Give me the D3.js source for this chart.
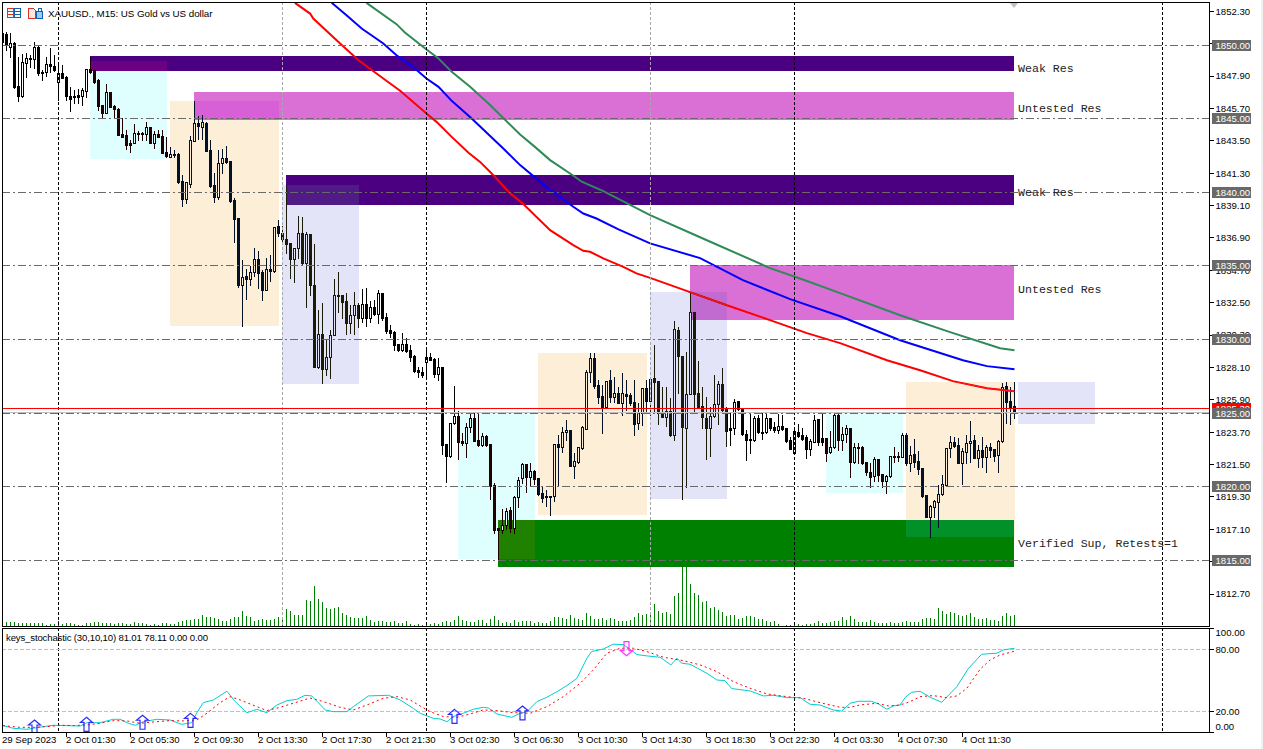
<!DOCTYPE html>
<html>
<head>
<meta charset="utf-8">
<title>XAUUSD M15</title>
<script src="https://cdn.jsdelivr.net/npm/d3@7"></script>
<style>
  html, body { margin: 0; padding: 0; background: #fff; overflow: hidden; }
  svg { display: block; }
  text { font-family: "Liberation Sans", sans-serif; }
  .axis text { font-size: 9.6px; fill: #000; }
  .axis path { display: none; }
  .axis line { stroke: #000; shape-rendering: crispEdges; }
</style>
</head>
<body>
<svg id="chart" width="1263" height="749"></svg>
<script>
// M15 candles
const opens = [1850.82,1850.75,1849.87,1850.14,1847.22,1846.54,1848.78,1849.12,1849.05,1849.87,1848.17,1848.17,1848.71,1848.57,1847.49,1848.10,1847.83,1846.54,1846.54,1846.60,1846.54,1846.88,1848.37,1848.30,1847.62,1845.92,1845.38,1846.81,1845.86,1845.65,1843.95,1843.89,1843.34,1843.34,1844.02,1843.95,1843.95,1844.43,1843.34,1843.95,1843.82,1842.73,1842.39,1842.53,1842.59,1840.76,1839.54,1840.55,1843.48,1844.70,1844.43,1844.70,1842.87,1840.49,1839.67,1841.98,1842.32,1842.12,1839.47,1838.25,1833.69,1834.30,1834.10,1834.57,1835.46,1834.57,1833.35,1834.78,1834.64,1837.70,1837.23,1836.82,1836.55,1835.46,1836.21,1837.23,1835.19,1837.16,1833.69,1828.12,1830.36,1827.98,1828.80,1830.29,1832.94,1833.01,1832.60,1831.11,1831.65,1832.33,1831.45,1832.40,1831.45,1832.20,1831.72,1833.15,1831.52,1830.63,1830.50,1829.68,1829.27,1829.68,1829.27,1828.87,1827.92,1827.78,1828.46,1828.80,1828.66,1827.64,1828.12,1822.89,1822.07,1824.31,1824.79,1823.09,1822.95,1824.04,1824.65,1823.16,1822.82,1823.43,1822.89,1820.10,1817.18,1817.04,1817.38,1818.40,1817.18,1819.28,1820.58,1821.53,1820.64,1821.05,1820.58,1819.56,1819.35,1819.35,1819.35,1822.89,1822.68,1823.70,1823.84,1821.39,1821.66,1822.61,1823.90,1827.78,1828.73,1826.90,1826.15,1825.40,1827.24,1826.08,1826.35,1825.67,1826.28,1826.22,1825.74,1824.31,1825.00,1826.69,1825.81,1827.37,1827.17,1825.06,1824.72,1825.13,1823.50,1830.63,1828.87,1823.97,1826.28,1831.86,1826.35,1825.47,1824.65,1823.97,1824.79,1825.60,1826.96,1825.33,1823.97,1823.97,1825.81,1825.33,1823.57,1823.23,1823.16,1824.65,1823.70,1823.70,1824.65,1824.04,1823.84,1824.11,1823.97,1823.16,1822.27,1823.70,1823.50,1823.36,1822.55,1823.02,1824.58,1823.29,1823.29,1822.34,1822.68,1824.86,1823.16,1823.57,1823.97,1821.66,1822.61,1822.68,1821.66,1820.98,1820.71,1821.87,1820.85,1820.37,1820.71,1822.00,1822.00,1822.00,1823.50,1821.59,1822.21,1821.73,1821.26,1819.42,1817.93,1818.60,1818.94,1819.49,1820.10,1822.61,1823.02,1822.82,1821.59,1822.34,1822.95,1823.16,1821.93,1822.48,1822.00,1822.68,1822.55,1822.14,1823.09,1826.83,1825.81,1825.47];
const highs = [1850.89,1850.89,1850.82,1850.21,1849.19,1849.39,1849.46,1849.32,1850.21,1849.93,1848.30,1849.19,1849.80,1849.32,1848.78,1848.64,1847.89,1847.15,1846.94,1847.01,1847.08,1848.37,1849.19,1848.30,1847.69,1845.92,1847.35,1846.81,1845.92,1845.72,1845.04,1844.23,1843.55,1844.63,1844.16,1844.09,1844.77,1844.43,1844.16,1844.23,1844.23,1843.75,1843.07,1842.87,1842.66,1841.17,1840.69,1843.82,1846.20,1845.18,1845.24,1844.77,1843.55,1841.30,1842.87,1842.93,1843.14,1842.12,1839.60,1838.25,1835.39,1834.78,1834.98,1836.21,1836.00,1834.71,1835.53,1835.73,1837.63,1838.11,1837.70,1840.49,1836.55,1836.21,1838.38,1838.31,1837.29,1837.16,1836.48,1831.99,1832.47,1830.02,1830.63,1834.10,1834.57,1833.01,1833.15,1832.33,1833.22,1832.47,1833.42,1833.49,1832.60,1832.67,1833.35,1833.15,1831.79,1830.97,1830.57,1829.68,1830.43,1830.09,1829.61,1828.93,1828.12,1828.12,1829.41,1829.07,1828.73,1828.73,1828.12,1822.89,1824.31,1826.83,1825.13,1823.63,1824.31,1824.92,1824.99,1824.99,1823.63,1823.50,1822.89,1820.24,1817.18,1818.47,1818.54,1818.60,1819.35,1820.64,1821.59,1821.53,1821.59,1821.12,1820.58,1820.03,1819.76,1819.35,1822.89,1823.50,1824.04,1824.52,1823.84,1822.27,1822.68,1824.11,1827.92,1829.07,1829.07,1827.24,1826.90,1827.17,1827.92,1827.44,1826.76,1827.71,1827.24,1826.35,1827.24,1825.67,1826.69,1827.24,1827.44,1829.61,1827.17,1826.76,1826.76,1826.01,1831.25,1830.84,1828.87,1829.14,1833.22,1831.86,1828.53,1826.76,1826.08,1825.40,1827.57,1827.17,1828.05,1825.40,1825.06,1825.94,1825.81,1825.33,1823.84,1825.00,1824.79,1824.86,1825.06,1825.06,1824.65,1824.38,1824.92,1824.86,1823.97,1823.36,1823.97,1824.24,1823.97,1823.50,1823.23,1824.86,1824.58,1825.00,1823.29,1823.77,1825.00,1825.00,1824.04,1824.18,1823.97,1822.95,1822.95,1822.75,1821.66,1821.59,1822.00,1821.87,1820.85,1820.78,1822.07,1822.68,1822.34,1823.63,1823.63,1822.75,1823.23,1822.41,1821.26,1819.42,1818.74,1819.08,1820.10,1820.78,1822.61,1823.43,1823.36,1823.29,1822.61,1823.50,1824.45,1823.50,1822.82,1823.36,1822.82,1822.95,1822.55,1823.16,1827.03,1827.10,1826.76,1827.10];
const lows = [1850.14,1849.66,1849.19,1847.08,1846.20,1846.47,1847.83,1848.51,1848.44,1847.96,1847.62,1847.89,1848.17,1848.23,1846.26,1847.76,1846.26,1845.52,1846.06,1846.06,1845.92,1846.47,1848.10,1847.42,1845.58,1845.04,1845.38,1845.79,1845.11,1843.89,1843.75,1842.93,1842.73,1843.34,1843.55,1843.55,1843.55,1843.34,1843.00,1843.75,1842.66,1842.39,1842.39,1842.39,1840.62,1839.06,1839.26,1840.35,1843.48,1843.61,1843.61,1842.80,1840.35,1839.33,1839.54,1841.30,1841.98,1839.33,1836.61,1833.55,1830.91,1832.74,1833.69,1834.30,1833.49,1832.67,1833.35,1833.96,1834.57,1837.02,1836.55,1835.87,1834.17,1833.90,1835.53,1835.05,1832.20,1833.01,1828.12,1828.05,1827.03,1827.57,1827.37,1830.29,1831.86,1831.45,1830.36,1830.43,1830.36,1830.84,1831.18,1830.91,1831.18,1831.65,1831.11,1831.31,1830.43,1830.16,1829.27,1829.21,1829.21,1829.14,1828.53,1827.78,1827.44,1827.44,1827.44,1828.59,1827.44,1827.24,1822.21,1820.30,1822.00,1824.24,1821.87,1822.82,1822.00,1823.70,1823.09,1822.75,1822.75,1822.75,1819.15,1816.84,1815.07,1816.84,1817.11,1816.90,1816.84,1818.60,1820.24,1819.62,1820.03,1820.17,1819.42,1818.94,1818.67,1818.06,1819.01,1820.10,1822.34,1823.16,1821.39,1820.58,1821.59,1822.55,1823.90,1827.10,1826.69,1825.67,1823.63,1825.33,1825.74,1825.74,1825.67,1824.86,1825.20,1825.54,1823.50,1823.90,1824.18,1825.00,1824.86,1825.00,1824.24,1824.72,1824.11,1823.43,1823.16,1826.35,1819.15,1819.96,1826.28,1825.00,1825.33,1823.97,1821.87,1822.07,1824.72,1824.24,1825.13,1822.75,1822.82,1823.57,1825.20,1823.50,1821.80,1822.27,1823.09,1823.63,1823.23,1823.63,1823.84,1823.70,1823.63,1823.84,1823.02,1822.55,1822.27,1823.36,1823.16,1821.93,1822.14,1823.02,1822.82,1822.82,1821.73,1822.27,1822.61,1822.48,1822.48,1823.02,1820.64,1821.59,1821.59,1821.53,1820.78,1819.96,1820.37,1820.37,1819.96,1819.56,1820.64,1821.66,1821.73,1822.00,1821.46,1821.05,1821.32,1820.85,1819.28,1817.93,1816.57,1817.93,1817.25,1819.42,1820.03,1822.00,1822.68,1821.59,1820.17,1821.59,1821.66,1821.93,1821.32,1821.32,1820.98,1822.00,1821.73,1820.98,1823.02,1824.31,1824.24,1824.65];
const closes = [1850.21,1850.00,1850.14,1847.15,1846.54,1848.85,1849.12,1849.05,1849.87,1848.10,1848.10,1848.71,1848.57,1848.30,1848.10,1847.76,1846.54,1846.33,1846.47,1846.47,1846.94,1848.37,1848.17,1847.49,1845.86,1845.38,1846.81,1845.79,1845.65,1843.89,1843.75,1843.21,1843.21,1844.02,1843.95,1844.02,1844.43,1843.34,1843.95,1843.75,1842.66,1842.46,1842.59,1842.59,1840.69,1839.54,1840.69,1843.55,1844.70,1844.50,1844.77,1842.80,1840.42,1839.67,1841.98,1842.32,1842.05,1839.40,1838.18,1833.69,1834.24,1834.10,1834.57,1835.46,1834.51,1833.35,1834.78,1834.64,1837.63,1837.23,1836.82,1836.48,1835.46,1836.21,1837.23,1835.19,1837.16,1833.69,1828.12,1830.36,1827.98,1828.80,1830.29,1833.01,1833.01,1832.54,1831.11,1831.65,1832.33,1831.45,1832.40,1831.45,1832.20,1831.72,1833.15,1831.45,1830.57,1830.43,1829.61,1829.27,1829.68,1829.21,1828.80,1827.85,1827.78,1827.57,1828.80,1828.59,1827.64,1828.12,1822.82,1822.07,1824.31,1824.79,1823.02,1822.95,1824.04,1824.65,1823.09,1822.82,1823.43,1822.82,1820.03,1817.04,1817.04,1817.38,1818.33,1817.18,1819.28,1820.44,1821.53,1820.64,1821.05,1820.51,1819.49,1819.22,1819.28,1819.28,1822.89,1822.68,1823.70,1823.84,1821.39,1821.73,1822.68,1824.04,1827.78,1828.73,1826.83,1826.08,1825.40,1827.17,1826.08,1826.35,1825.67,1826.35,1826.15,1825.67,1824.24,1825.00,1826.69,1825.81,1827.30,1827.10,1825.00,1824.72,1825.13,1823.50,1830.70,1828.87,1824.04,1826.28,1831.86,1826.28,1825.33,1824.72,1823.97,1824.79,1825.60,1826.96,1825.20,1823.77,1823.84,1825.74,1825.26,1823.57,1823.16,1823.16,1824.65,1823.70,1823.63,1824.65,1823.97,1823.84,1824.11,1823.90,1823.09,1822.55,1823.77,1823.43,1823.23,1822.55,1823.09,1824.52,1823.02,1823.02,1822.27,1822.68,1824.86,1823.16,1823.57,1823.97,1821.66,1822.68,1822.68,1821.59,1820.98,1820.64,1821.87,1820.78,1820.37,1820.71,1822.07,1822.07,1822.07,1823.50,1821.59,1822.14,1821.66,1821.19,1819.35,1817.93,1818.67,1819.01,1819.49,1820.17,1822.61,1823.02,1822.75,1821.59,1822.41,1822.95,1823.09,1821.93,1822.48,1822.00,1822.68,1822.48,1822.07,1823.09,1826.76,1825.74,1825.40,1825.00];

// tick volume, one per bar
const volumes = [3,4,4,4,3,3,3,3,3,3,3,1,2,2,5,2,3,3,2,1,1,3,3,4,4,3,3,3,2,3,3,2,2,4,3,3,2,1,2,1,3,3,2,2,4,5,6,6,7,7,11,9,9.5,8,7,5,5,7,9,9,15,10,9,5,6,7,6,6,7,9,9,17,15,11,11,11,26,25,40,27,24,18,17,18,19,13,11,9,8,8,8,10,6,4,5,5,4,4,5,3,3,5,2,1,2,
  1,2,2,3,2,4,5,4,6,10,6,5,4,4,6,6,3,7,10,6,3,4,3,6,4,5,5,5,3,4,3,3,5,9,9,8,7,11,8,7,6,13,10,7,7,8,6,8,7,5,5,5,6,9,13,11,12,13,22,15,13,14,12,30,33,60,60,42,33,31,24,25,18,19,16,14,10,11,11,7,8,10,10,9,7,7,5,4,5,2,0,1,1,2,2,1,2,2,3,5,3,3,4,5,5,
  9,6,10,7,4,4,4,6,4,3,3,3,4,3,3,4,5,4,4,4,7,8,8,7,18,15,12,14,13,11,10,11,13,9,7,7,8,6,6,5,10,13,10,11];

// moving averages, read at knots along each line
const maRedBars = [73.1,76.9,77.7,84.4,89,95.2,99.4,106,108.5,112.3,116.5,119.4,123.1,126.5,130.2,136.9,142.7,145.2,146.9,150.2,155.2,158.5,161.9,171.9,181.1,192.6,201.1,209.4,221.1,229.4,237.6,246.1,253];
const maRed = [1852.88,1852.15,1851.81,1850.12,1848.98,1847.74,1846.90,1845.36,1844.79,1843.77,1842.69,1842.07,1841.06,1840.04,1839.20,1837.43,1836.41,1836.03,1835.96,1835.51,1834.94,1834.49,1834.19,1833.22,1832.33,1831.25,1830.43,1829.75,1828.59,1827.91,1827.17,1826.69,1826.49];
const maBlueBars = [82.3,86,89.8,95.2,98.5,103.1,106,109,112.3,117.3,125.2,129.4,136.9,142.7,145.2,148.5,154,161.9,174.4,185.1,196.9,209.4,224.4,240.1,246.1,253];
const maBlue = [1852.88,1852.04,1851.13,1850.12,1849.32,1848.42,1847.74,1847.17,1846.22,1845.02,1842.98,1841.85,1840.15,1839.02,1838.56,1838.22,1837.48,1836.53,1835.53,1834.03,1832.74,1831.58,1829.95,1828.59,1828.19,1827.98];
const maGreenBars = [91,98.5,100.6,106,109,112.3,116.9,121.9,129.4,133.1,136.9,143.1,144.8,150.2,161.9,174.4,191.9,200.6,209.4,224.4,236.9,249.4,253];
const maGreen = [1852.88,1851.43,1850.86,1849.71,1849.10,1848.19,1847.17,1845.93,1843.93,1843.09,1842.19,1841.06,1840.72,1840.08,1838.45,1836.95,1834.85,1834.03,1833.15,1831.65,1830.50,1829.41,1829.27];

// stochastic main and signal
const stochMainBars = [0.1,2.7,6.1,7.7,10.2,12.7,16.1,19.4,21.1,24.4,27.7,29.4,31.5,33.2,35.2,38.6,41.9,44.8,47.3,48.6,50.2,52.7,56.1,58.2,61.1,63.6,66.1,68.6,71.1,73.6,75.6,77.3,80.7,82.7,86.1,87.7,91.5,96.5,99.4,102.7,104.4,107.7,109.4,111.1,112.7,115.2,117.7,120.2,121.5,123.6,127.3,129.4,131.1,133.6,136.1,138.6,141.1,143.6,146.1,147.3,150.2,152.7,155.2,156.9,158.6,161.1,164.4,167.1,168.6,169.8,171.9,176.1,178.6,180.6,182.3,186.9,190.2,192.7,196.1,199.4,201.9,204.4,207.7,209.8,211.9,214,217.3,219,221.1,222.7,224.4,225.7,227.3,229.4,231.9,234.8,238.6,241.5,244.8,248.6,250.2,253];
const stochMain = [6.2,3.6,2.6,3.6,5.2,6.5,6.2,5.8,9,9,12.3,12.3,8.4,6.5,10,12.3,11.6,7.4,9,18.7,28.4,31,39.4,29.4,18.7,21.9,18.7,26.1,30.3,31.6,35.5,34.9,21.3,19.7,19.7,24.5,34.9,35.5,31,22.9,18.1,13.2,12.6,10,14.9,18.1,22,23.9,23.2,17.4,14.2,18.1,19.7,29.4,33.6,39,44.9,51.9,71.3,77.8,80.3,84.9,84.5,80,74.9,73.6,72.3,64.9,71.3,66.5,65.5,56.8,50.3,49.7,42,39.7,34.9,35.5,33.2,33.2,26.8,26.1,21.3,20.3,27.8,29.7,29.7,27.1,22,25.2,26.1,33.6,38.4,39.4,33.6,28.7,43.9,61.6,75.2,76.2,79.4,81.01];
const stochSignalBars = [0.1,4.4,7.7,11.1,14.4,17.7,21.1,24.4,27.7,31.1,34.4,37.7,41.9,45.2,48.6,51.1,54.4,56.9,59.4,63.6,66.1,69.4,72.7,76.9,80.2,84.4,87.7,91.1,95.2,98.6,101.9,104.4,106.9,110.2,113.6,116.9,120.2,123.6,127.7,131.9,136.1,140.2,144.4,147.7,151.1,154.4,157.7,161.1,165.2,170.2,174.4,178.6,182.7,186.9,191.1,196.1,200.2,204.4,209.4,211.9,214.4,218.6,221.5,224.4,226.9,229.4,232.7,236.1,238.6,241.1,244.4,246.9,249.4,253];
const stochSignal = [6.2,4.5,4.5,5.2,6.5,6.2,6.8,8.4,11,10.7,8.4,9.7,11,10.7,11.6,18.1,28.4,34.2,31,24.5,20.7,23.9,27.8,32.9,29.4,23.9,21.3,26.1,32.6,34.2,31,25.2,19.7,14.9,14.2,17.4,21.3,20.7,18.7,18.1,24.5,34.2,47.1,60,76.2,81,81,77.8,72.3,69,64.9,58.4,48.7,42.3,36.8,34.2,32.6,28.4,23.9,23.9,26.1,27.8,25.2,26.1,29.4,34.2,35.2,33.2,34.9,42.3,60.7,69.7,74.5,78.11];

// signal arrows in the stochastic window
const upArrowBars = [8,21,35,47,113,130];
const upArrowValues = [11.6,14.2,16.2,18,21.9,25.2];
const downArrowBars = [156];
const downArrowValues = [73.8];

// supply/demand zones
const zoneNames = ['Weak Res','Untested Res','Weak Res','Untested Res','Verified Sup, Retests=1'];
const zoneColors = ['#4b0082','#da70d6','#4b0082','#da70d6','#008000'];
const zoneStart = [21.88,47.88,70.88,171.88,123.88];
const zoneTop = [1849.25,1846.81,1841.17,1835.05,1817.72];
const zoneBottom = [1848.23,1844.90,1839.13,1831.31,1814.53];
const zoneLabelPrice = [1848.19,1845.47,1839.76,1833.15,1815.89];

// session boxes, colours are the xor mask MT5 paints with
const boxMasks = ['#200000','#021028','#1b1b07','#200000','#021028','#1b1b07','#200000','#021028','#1b1b07'];
const boxStart = [21.88,41.88,69.88,113.88,133.88,161.88,205.88,225.88,253.88];
const boxEnd = [41.13,69.13,89.13,133.13,161.13,181.13,225.13,253.13,273.13];
const boxTop = [1848.91,1846.20,1840.49,1825.00,1829.07,1833.22,1825.00,1827.10,1827.10];
const boxBottom = [1842.25,1830.91,1826.96,1815.07,1818.06,1819.15,1819.56,1816.57,1824.24];

// axes and levels
const priceTicks = [1852.3,1850.1,1847.9,1845.7,1843.5,1841.3,1839.1,1836.9,1834.7,1832.5,1830.3,1828.1,1825.9,1823.7,1821.5,1819.3,1817.1,1814.9,1812.7];
const roundLevels = [1850,1845,1840,1835,1830,1825,1820,1815];
const stochTicks = [100,80,20,0];
const stochLevels = [80,20];
const timeBars = [0,16,32,48,64,80,96,112,128,144,160,176,192,208,224,240];
const timeLabels = ['29 Sep 2023','2 Oct 01:30','2 Oct 05:30','2 Oct 09:30','2 Oct 13:30','2 Oct 17:30','2 Oct 21:30','3 Oct 02:30','3 Oct 06:30','3 Oct 10:30','3 Oct 14:30','3 Oct 18:30','3 Oct 22:30','4 Oct 03:30','4 Oct 07:30','4 Oct 11:30'];
const dayLineBars = [14,106,198,290];
const greyLineBars = [70,162];
const askPrice = 1825.29;
const bidPrice = 1825.05;

const chartLeft = 2, chartRight = 1209, mainTop = 2, mainBottom = 626, subTop = 628, subBottom = 732;

const x = d3.scaleLinear().domain([0, 253]).range([2.5, 1014.5]);
const y = d3.scaleLinear().domain([1815, 1850]).range([560.2, 45.2]);
const yVol = d3.scaleLinear().domain([0, 60]).range([mainBottom, mainBottom - 60]);
const yStoch = d3.scaleLinear().domain([0, 100]).range([732, 628.6]);

const snap = v => Math.floor(v) + 0.5;

const svg = d3.select('#chart');
svg.append('rect').attr('width', 1263).attr('height', 749).attr('fill', '#fff');
svg.append('rect').attr('x', 1261).attr('width', 2).attr('height', 749).attr('fill', '#f0f0f0');

const defs = svg.append('defs');
defs.append('clipPath').attr('id', 'mainClip').append('rect')
  .attr('x', chartLeft).attr('y', mainTop).attr('width', chartRight - chartLeft).attr('height', mainBottom - mainTop);
defs.append('clipPath').attr('id', 'subClip').append('rect')
  .attr('x', chartLeft).attr('y', subTop).attr('width', chartRight - chartLeft).attr('height', subBottom - subTop);

const main = svg.append('g').attr('clip-path', 'url(#mainClip)');
// the clip isolates the group, so the blend needs its own white backdrop in here
main.append('rect')
  .attr('x', chartLeft).attr('y', mainTop)
  .attr('width', chartRight - chartLeft).attr('height', mainBottom - mainTop)
  .attr('fill', '#fff');

// zones
const zoneLayer = main.append('g').attr('shape-rendering', 'crispEdges');
zoneNames.forEach((name, i) =>
{
  zoneLayer.append('rect')
    .attr('x', Math.round(x(zoneStart[i])))
    .attr('y', Math.round(y(zoneTop[i])))
    .attr('width', Math.round(x(252.88)) - Math.round(x(zoneStart[i])))
    .attr('height', Math.round(y(zoneBottom[i])) - Math.round(y(zoneTop[i])))
    .attr('fill', zoneColors[i]);
});

// box over zone is a real xor in the terminal, the difference blend only gets
// there if the zone underneath is lifted a bit first
zoneNames.forEach((name, i) =>
{
  boxMasks.forEach((mask, j) =>
  {
    const left = Math.max(zoneStart[i], boxStart[j]);
    const right = Math.min(252.88, boxEnd[j]);
    const top = Math.min(zoneTop[i], boxTop[j]);
    const bottom = Math.max(zoneBottom[i], boxBottom[j]);
    if (left >= right || top <= bottom) return;
    const z = d3.rgb(zoneColors[i]), m = d3.rgb(mask);
    const lift = (a, b) => Math.min(255, (a ^ b) + b);
    zoneLayer.append('rect')
      .attr('x', Math.round(x(left)))
      .attr('y', Math.round(y(top)))
      .attr('width', Math.round(x(right)) - Math.round(x(left)))
      .attr('height', Math.round(y(bottom)) - Math.round(y(top)))
      .attr('fill', d3.rgb(lift(z.r, m.r), lift(z.g, m.g), lift(z.b, m.b)).formatHex());
  });
});

// volumes
main.append('g').attr('shape-rendering', 'crispEdges')
  .selectAll('rect')
  .data(volumes)
  .enter()
  .append('rect')
  .attr('x', (d, i) => Math.floor(x(i)))
  .attr('y', d => Math.round(yVol(d)))
  .attr('width', 1)
  .attr('height', d => mainBottom - Math.round(yVol(d)))
  .attr('fill', '#008000');

// candles
const candles = d3.range(opens.length);
const candleLayer = main.append('g').attr('shape-rendering', 'crispEdges');
candleLayer.selectAll('line')
  .data(candles)
  .enter()
  .append('line')
  .attr('x1', i => x(i)).attr('x2', i => x(i))
  .attr('y1', i => Math.round(y(highs[i])))
  .attr('y2', i => Math.round(y(lows[i])) + 1)
  .attr('stroke', '#000');
candleLayer.selectAll('rect')
  .data(candles)
  .enter()
  .append('rect')
  .attr('x', i => x(i) - 1)
  .attr('y', i => Math.round(y(Math.max(opens[i], closes[i]))) + 0.5)
  .attr('width', 2)
  .attr('height', i => Math.max(1, Math.round(y(Math.min(opens[i], closes[i]))) - Math.round(y(Math.max(opens[i], closes[i])))))
  .attr('fill', i => closes[i] > opens[i] ? '#fff' : '#000')
  .attr('stroke', '#000');

// moving averages
const maLine = bars => d3.line().x((d, i) => x(bars[i])).y(d => y(d));
[[maGreenBars, maGreen, '#2e8b57'], [maBlueBars, maBlue, '#0000ff'], [maRedBars, maRed, '#ff0000']].forEach(([bars, values, color]) =>
{
  main.append('path')
    .attr('d', maLine(bars)(values))
    .attr('fill', 'none')
    .attr('stroke', color)
    .attr('stroke-width', 2);
});

// session boxes
const boxLayer = main.append('g').attr('shape-rendering', 'crispEdges');
boxMasks.forEach((mask, i) =>
{
  boxLayer.append('rect')
    .attr('x', Math.round(x(boxStart[i])))
    .attr('y', Math.round(y(boxTop[i])))
    .attr('width', Math.round(x(boxEnd[i])) - Math.round(x(boxStart[i])))
    .attr('height', Math.round(y(boxBottom[i])) - Math.round(y(boxTop[i])))
    .attr('fill', mask)
    .style('mix-blend-mode', 'difference');
});

// grid, levels and period separators
const gridLayer = svg.append('g').attr('shape-rendering', 'crispEdges');
roundLevels.forEach(level =>
{
  gridLayer.append('line')
    .attr('x1', chartLeft).attr('x2', chartRight)
    .attr('y1', snap(y(level))).attr('y2', snap(y(level)))
    .attr('stroke', '#696969')
    .attr('stroke-dasharray', '8,3,2,3');
});
greyLineBars.forEach(bar =>
{
  gridLayer.append('line')
    .attr('x1', x(bar)).attr('x2', x(bar))
    .attr('y1', mainTop).attr('y2', mainBottom)
    .attr('stroke', '#a9a9a9')
    .attr('stroke-dasharray', '3,2');
});
dayLineBars.forEach(bar =>
{
  gridLayer.append('line')
    .attr('x1', x(bar)).attr('x2', x(bar))
    .attr('y1', mainTop).attr('y2', mainBottom)
    .attr('stroke', '#000')
    .attr('stroke-dasharray', '3,2');
  gridLayer.append('line')
    .attr('x1', x(bar)).attr('x2', x(bar))
    .attr('y1', subTop).attr('y2', subBottom)
    .attr('stroke', '#000')
    .attr('stroke-dasharray', '3,2');
});
gridLayer.append('line')
  .attr('x1', chartLeft).attr('x2', chartRight)
  .attr('y1', snap(y(bidPrice))).attr('y2', snap(y(bidPrice)))
  .attr('stroke', '#c0c0c0');
gridLayer.append('line')
  .attr('x1', chartLeft).attr('x2', chartRight)
  .attr('y1', snap(y(askPrice))).attr('y2', snap(y(askPrice)))
  .attr('stroke', '#ff0000');

// zone labels
svg.append('g')
  .selectAll('text')
  .data(zoneNames)
  .enter()
  .append('text')
  .attr('x', x(253.88))
  .attr('y', (d, i) => y(zoneLabelPrice[i]))
  .style('font-family', '"Liberation Mono", monospace')
  .style('font-size', '11.6px')
  .attr('fill', '#222')
  .text(d => d);

// stochastic window
const sub = svg.append('g').attr('clip-path', 'url(#subClip)');
stochLevels.forEach(level =>
{
  sub.append('line')
    .attr('x1', chartLeft).attr('x2', chartRight)
    .attr('y1', snap(yStoch(level))).attr('y2', snap(yStoch(level)))
    .attr('stroke', '#c0c0c0')
    .attr('stroke-dasharray', '4,2')
    .attr('shape-rendering', 'crispEdges');
});
sub.append('path')
  .attr('d', maLine(stochMainBars).y(d => yStoch(d))(stochMain))
  .attr('fill', 'none')
  .attr('stroke', '#00ced1');
sub.append('path')
  .attr('d', maLine(stochSignalBars).y(d => yStoch(d))(stochSignal))
  .attr('fill', 'none')
  .attr('stroke', '#ff0000')
  .attr('stroke-dasharray', '2,3');

const arrowPath = 'M0,0L6,5L2.5,5L2.5,14L-2.5,14L-2.5,5L-6,5Z';
upArrowBars.forEach((bar, i) =>
{
  sub.append('path')
    .attr('d', arrowPath)
    .attr('transform', `translate(${ x(bar) },${ yStoch(upArrowValues[i]) })`)
    .attr('fill', 'none')
    .attr('stroke', '#2a2aff')
    .attr('stroke-width', 1.2);
});
downArrowBars.forEach((bar, i) =>
{
  sub.append('path')
    .attr('d', arrowPath)
    .attr('transform', `translate(${ x(bar) },${ yStoch(downArrowValues[i]) }) scale(1,-1)`)
    .attr('fill', 'none')
    .attr('stroke', '#ff33ff')
    .attr('stroke-width', 1.2);
});

// frames
const frames = svg.append('g').attr('fill', 'none').attr('stroke', '#000').attr('shape-rendering', 'crispEdges');
frames.append('rect').attr('x', chartLeft + 0.5).attr('y', mainTop + 0.5).attr('width', chartRight - chartLeft).attr('height', mainBottom - mainTop);
frames.append('rect').attr('x', chartLeft + 0.5).attr('y', subTop + 0.5).attr('width', chartRight - chartLeft).attr('height', subBottom - subTop);

// price axis
const priceAxis = svg.append('g')
  .attr('class', 'axis')
  .attr('transform', `translate(${ chartRight + 0.5 },0)`)
  .call(d3.axisRight(y).tickValues(priceTicks).tickFormat(d3.format('.2f')).tickSize(4).tickPadding(2).offset(0));
priceAxis.selectAll('text').attr('dy', '0.35em');

// tags on the price axis
const tags = svg.append('g');
const addTag = (level, color) =>
{
  const cy = snap(y(level));
  tags.append('rect')
    .attr('x', 1212).attr('y', cy - 5.5)
    .attr('width', 39).attr('height', 11)
    .attr('fill', color)
    .attr('shape-rendering', 'crispEdges');
  tags.append('text')
    .attr('x', 1215.5).attr('y', cy + 3.5)
    .style('font-size', '9.6px')
    .attr('fill', '#fff')
    .text(d3.format('.2f')(level));
};
addTag(1825.3, '#ff0000');
roundLevels.forEach(level => addTag(level, '#696969'));

// stochastic axis, the outer labels get pushed inside the window
const stochAxis = svg.append('g')
  .attr('class', 'axis')
  .attr('transform', `translate(${ chartRight + 0.5 },0)`)
  .call(d3.axisRight(yStoch).tickValues(stochTicks).tickFormat(d3.format('.2f')).tickSize(4).tickPadding(2).offset(0));
stochAxis.selectAll('text')
  .attr('dy', '0.35em')
  .attr('y', d => d === 100 ? 4.5 : d === 0 ? -5 : 0);

// time axis
const timeAxis = svg.append('g')
  .attr('class', 'axis')
  .attr('transform', `translate(0,${ subBottom + 0.5 })`)
  .call(d3.axisBottom(x).tickValues(timeBars).tickFormat((d, i) => timeLabels[i]).tickSize(4).offset(0));
timeAxis.selectAll('text')
  .attr('text-anchor', 'start')
  .attr('x', -0.5)
  .attr('y', 4)
  .attr('dy', '0.71em');
timeAxis.selectAll('.tick line').filter(d => d === 0).remove();

// titles
svg.append('text').attr('x', 48).attr('y', 17).attr('textLength', 164.5).style('font-size', '9.8px').text('XAUUSD., M15:  US Gold vs US dollar');
svg.append('text').attr('x', 6).attr('y', 641).attr('textLength', 202).style('font-size', '9.6px').text('keys_stochastic (30,10,10) 81.01 78.11 0.00 0.00');

// toolbar icons next to the title
const icons = svg.append('g').attr('fill', 'none').attr('shape-rendering', 'crispEdges');
icons.append('rect').attr('x', 7.5).attr('y', 8.5).attr('width', 6).attr('height', 9).attr('stroke', '#e03020');
icons.append('rect').attr('x', 14.5).attr('y', 8.5).attr('width', 6).attr('height', 9).attr('stroke', '#1060b0');
[11.5, 14.5].forEach(ly =>
{
  icons.append('line').attr('x1', 8).attr('x2', 13).attr('y1', ly).attr('y2', ly).attr('stroke', '#e03020');
  icons.append('line').attr('x1', 15).attr('x2', 20).attr('y1', ly).attr('y2', ly).attr('stroke', '#1060b0');
});
icons.append('path').attr('d', 'M28.5,8.5H33.5L35.5,10.5V18.5H28.5Z').attr('stroke', '#e03020').attr('fill', '#fde8e0');
icons.append('path').attr('d', 'M36.5,11.5H42.5V18.5H36.5Z').attr('stroke', '#1060b0').attr('fill', '#9ccbf0');
icons.append('path').attr('d', 'M38.5,8.5H41.5V11.5H38.5Z').attr('stroke', '#1060b0');

// last-bar marker at the top edge
svg.append('path').attr('d', 'M1010,3H1018L1014,8Z').attr('fill', '#c0c0c0');
</script>
</body>
</html>
